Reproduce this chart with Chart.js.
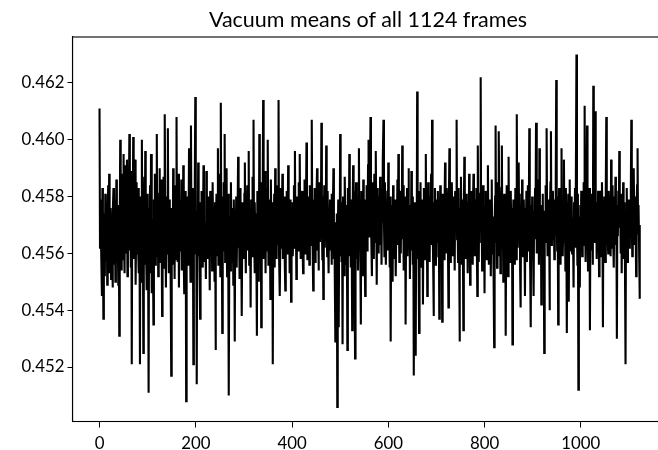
<!DOCTYPE html>
<html lang="en">
<head>
    <meta charset="UTF-8">
    <title>Vacuum means</title>
    <script src="https://cdn.jsdelivr.net/npm/chart.js"></script>
    <style>
        html, body { margin: 0; padding: 0; background: #fff; }
        body { width: 658px; height: 450px; overflow: hidden; position: relative; }
        #wrap { position: absolute; left: 0; top: 0; width: 700px; height: 450px; }
        #title {
            position: absolute; left: 368px; top: 7px; transform: translateX(-50%);
            font-family: Lato, "Open Sans", sans-serif; font-size: 21.5px; color: #000;
            white-space: nowrap; line-height: 1.2;
        }
    </style>
</head>
<body>
<div id="wrap"><canvas id="vacuumChart" width="700" height="450"></canvas></div>
<div id="title">Vacuum means of all 1124 frames</div>

<script>
// tick positions
const xTicks = [0, 200, 400, 600, 800, 1000];
const yTicks = [0.452, 0.454, 0.456, 0.458, 0.460, 0.462];

// vacuum mean per frame (frame 0 .. 1123)
const vacuumMeans = [
    0.4611, 0.4562, 0.4579, 0.4571, 0.4555, 0.4545, 0.4583, 0.4566, 0.4537, 0.4569, 0.4574, 0.4552, 0.4581, 0.4563, 0.4558, 0.4577, 0.4549, 0.4573, 0.4584, 0.4560,
    0.4588, 0.4553, 0.4566, 0.4576, 0.4551, 0.4570, 0.4561, 0.4548, 0.4574, 0.4583, 0.4556, 0.4563, 0.4579, 0.4550, 0.4568, 0.4586, 0.4557, 0.4572, 0.4565, 0.4549,
    0.4577, 0.4531, 0.4569, 0.4600, 0.4562, 0.4575, 0.4554, 0.4588, 0.4566, 0.4558, 0.4595, 0.4564, 0.4553, 0.4578, 0.4591, 0.4560, 0.4571, 0.4593, 0.4552, 0.4583,
    0.4567, 0.4580, 0.4602, 0.4561, 0.4574, 0.4555, 0.4589, 0.4521, 0.4577, 0.4569, 0.4601, 0.4558, 0.4582, 0.4573, 0.4593, 0.4549, 0.4566, 0.4585, 0.4560, 0.4578,
    0.4564, 0.4583, 0.4553, 0.4571, 0.4521, 0.4580, 0.4568, 0.4550, 0.4600, 0.4563, 0.4576, 0.4525, 0.4574, 0.4587, 0.4556, 0.4596, 0.4565, 0.4559, 0.4547, 0.4581,
    0.4570, 0.4557, 0.4511, 0.4576, 0.4566, 0.4584, 0.4553, 0.4595, 0.4568, 0.4546, 0.4572, 0.4561, 0.4535, 0.4579, 0.4565, 0.4588, 0.4556, 0.4571, 0.4582, 0.4602,
    0.4559, 0.4575, 0.4552, 0.4567, 0.4581, 0.4590, 0.4557, 0.4564, 0.4586, 0.4570, 0.4538, 0.4578, 0.4562, 0.4587, 0.4555, 0.4569, 0.4609, 0.4566, 0.4548, 0.4580,
    0.4571, 0.4560, 0.4604, 0.4568, 0.4553, 0.4579, 0.4566, 0.4573, 0.4547, 0.4517, 0.4576, 0.4563, 0.4556, 0.4590, 0.4562, 0.4581, 0.4551, 0.4584, 0.4569, 0.4558,
    0.4608, 0.4565, 0.4574, 0.4557, 0.4588, 0.4548, 0.4570, 0.4579, 0.4561, 0.4567, 0.4586, 0.4554, 0.4572, 0.4564, 0.4591, 0.4559, 0.4546, 0.4577, 0.4568, 0.4582,
    0.4508, 0.4573, 0.4565, 0.4580, 0.4556, 0.4568, 0.4597, 0.4562, 0.4575, 0.4550, 0.4605, 0.4567, 0.4558, 0.4583, 0.4571, 0.4521, 0.4578, 0.4560, 0.4586, 0.4615,
    0.4566, 0.4575, 0.4514, 0.4572, 0.4559, 0.4592, 0.4563, 0.4570, 0.4553, 0.4537, 0.4578, 0.4568, 0.4582, 0.4561, 0.4574, 0.4555, 0.4591, 0.4565, 0.4571, 0.4557,
    0.4569, 0.4551, 0.4589, 0.4564, 0.4576, 0.4558, 0.4580, 0.4562, 0.4573, 0.4547, 0.4582, 0.4566, 0.4560, 0.4577, 0.4554, 0.4585, 0.4569, 0.4561, 0.4574, 0.4550,
    0.4578, 0.4526, 0.4567, 0.4581, 0.4559, 0.4572, 0.4597, 0.4556, 0.4579, 0.4565, 0.4588, 0.4552, 0.4613, 0.4570, 0.4575, 0.4532, 0.4580, 0.4561, 0.4585, 0.4566,
    0.4602, 0.4557, 0.4574, 0.4563, 0.4590, 0.4552, 0.4570, 0.4581, 0.4560, 0.4510, 0.4573, 0.4568, 0.4554, 0.4585, 0.4565, 0.4576, 0.4557, 0.4571, 0.4549, 0.4579,
    0.4567, 0.4529, 0.4572, 0.4560, 0.4580, 0.4555, 0.4569, 0.4576, 0.4594, 0.4562, 0.4571, 0.4551, 0.4583, 0.4564, 0.4574, 0.4557, 0.4538, 0.4578, 0.4569, 0.4572,
    0.4558, 0.4581, 0.4592, 0.4565, 0.4553, 0.4575, 0.4568, 0.4584, 0.4561, 0.4571, 0.4596, 0.4556, 0.4576, 0.4566, 0.4541, 0.4579, 0.4570, 0.4559, 0.4587, 0.4563,
    0.4607, 0.4568, 0.4553, 0.4578, 0.4562, 0.4574, 0.4557, 0.4531, 0.4582, 0.4565, 0.4571, 0.4550, 0.4602, 0.4567, 0.4559, 0.4585, 0.4534, 0.4576, 0.4570, 0.4580,
    0.4614, 0.4558, 0.4577, 0.4564, 0.4589, 0.4553, 0.4572, 0.4583, 0.4561, 0.4569, 0.4600, 0.4556, 0.4579, 0.4566, 0.4574, 0.4544, 0.4586, 0.4572, 0.4559, 0.4578,
    0.4521, 0.4573, 0.4565, 0.4581, 0.4555, 0.4590, 0.4568, 0.4576, 0.4558, 0.4584, 0.4563, 0.4571, 0.4614, 0.4560, 0.4578, 0.4545, 0.4570, 0.4583, 0.4562, 0.4575,
    0.4588, 0.4558, 0.4571, 0.4564, 0.4580, 0.4556, 0.4547, 0.4577, 0.4567, 0.4582, 0.4560, 0.4573, 0.4591, 0.4562, 0.4575, 0.4553, 0.4569, 0.4579, 0.4543, 0.4574,
    0.4565, 0.4578, 0.4559, 0.4570, 0.4584, 0.4562, 0.4596, 0.4568, 0.4575, 0.4551, 0.4580, 0.4566, 0.4573, 0.4561, 0.4585, 0.4563, 0.4595, 0.4571, 0.4558, 0.4576,
    0.4567, 0.4582, 0.4562, 0.4553, 0.4577, 0.4569, 0.4586, 0.4560, 0.4574, 0.4564, 0.4599, 0.4571, 0.4558, 0.4580, 0.4566, 0.4575, 0.4556, 0.4584, 0.4570, 0.4578,
    0.4563, 0.4607, 0.4572, 0.4560, 0.4547, 0.4579, 0.4568, 0.4583, 0.4557, 0.4573, 0.4565, 0.4581, 0.4590, 0.4561, 0.4576, 0.4554, 0.4569, 0.4585, 0.4564, 0.4575,
    0.4569, 0.4606, 0.4574, 0.4558, 0.4580, 0.4544, 0.4570, 0.4584, 0.4562, 0.4577, 0.4567, 0.4598, 0.4571, 0.4559, 0.4582, 0.4564, 0.4553, 0.4576, 0.4568, 0.4579,
    0.4561, 0.4573, 0.4556, 0.4581, 0.4566, 0.4577, 0.4590, 0.4558, 0.4571, 0.4549, 0.4529, 0.4567, 0.4553, 0.4574, 0.4506, 0.4564, 0.4579, 0.4534, 0.4569, 0.4559,
    0.4602, 0.4565, 0.4578, 0.4557, 0.4572, 0.4528, 0.4580, 0.4562, 0.4575, 0.4552, 0.4587, 0.4568, 0.4556, 0.4577, 0.4563, 0.4526, 0.4583, 0.4571, 0.4559, 0.4595,
    0.4567, 0.4579, 0.4555, 0.4574, 0.4564, 0.4533, 0.4576, 0.4591, 0.4561, 0.4582, 0.4549, 0.4523, 0.4571, 0.4585, 0.4558, 0.4568, 0.4580, 0.4554, 0.4573, 0.4597,
    0.4563, 0.4577, 0.4557, 0.4535, 0.4582, 0.4568, 0.4571, 0.4552, 0.4586, 0.4565, 0.4575, 0.4559, 0.4545, 0.4579, 0.4570, 0.4584, 0.4561, 0.4573, 0.4591, 0.4600,
    0.4566, 0.4581, 0.4569, 0.4608, 0.4576, 0.4562, 0.4552, 0.4585, 0.4567, 0.4578, 0.4558, 0.4588, 0.4570, 0.4564, 0.4596, 0.4574, 0.4549, 0.4583, 0.4567, 0.4577,
    0.4560, 0.4580, 0.4568, 0.4587, 0.4563, 0.4575, 0.4556, 0.4583, 0.4571, 0.4592, 0.4607, 0.4572, 0.4559, 0.4585, 0.4565, 0.4556, 0.4578, 0.4569, 0.4582, 0.4561,
    0.4592, 0.4567, 0.4574, 0.4555, 0.4580, 0.4529, 0.4570, 0.4561, 0.4577, 0.4550, 0.4584, 0.4564, 0.4572, 0.4558, 0.4579, 0.4566, 0.4552, 0.4575, 0.4570, 0.4586,
    0.4563, 0.4595, 0.4573, 0.4557, 0.4582, 0.4568, 0.4560, 0.4578, 0.4571, 0.4598, 0.4565, 0.4584, 0.4554, 0.4574, 0.4562, 0.4580, 0.4535, 0.4571, 0.4567, 0.4583,
    0.4559, 0.4575, 0.4590, 0.4564, 0.4577, 0.4551, 0.4570, 0.4561, 0.4589, 0.4567, 0.4580, 0.4556, 0.4572, 0.4517, 0.4569, 0.4578, 0.4563, 0.4524, 0.4574, 0.4558,
    0.4617, 0.4571, 0.4582, 0.4559, 0.4532, 0.4576, 0.4566, 0.4585, 0.4562, 0.4573, 0.4555, 0.4579, 0.4542, 0.4570, 0.4583, 0.4564, 0.4575, 0.4558, 0.4595, 0.4568,
    0.4577, 0.4545, 0.4571, 0.4585, 0.4561, 0.4574, 0.4557, 0.4580, 0.4568, 0.4588, 0.4563, 0.4607, 0.4573, 0.4560, 0.4538, 0.4578, 0.4569, 0.4583, 0.4556, 0.4572,
    0.4564, 0.4579, 0.4567, 0.4582, 0.4559, 0.4575, 0.4537, 0.4570, 0.4584, 0.4562, 0.4577, 0.4569, 0.4536, 0.4581, 0.4566, 0.4573, 0.4558, 0.4578, 0.4592, 0.4565,
    0.4574, 0.4560, 0.4583, 0.4569, 0.4563, 0.4541, 0.4579, 0.4597, 0.4568, 0.4557, 0.4576, 0.4564, 0.4585, 0.4571, 0.4559, 0.4580, 0.4567, 0.4574, 0.4554, 0.4582,
    0.4570, 0.4578, 0.4607, 0.4565, 0.4572, 0.4557, 0.4583, 0.4568, 0.4529, 0.4576, 0.4562, 0.4587, 0.4570, 0.4556, 0.4579, 0.4566, 0.4533, 0.4573, 0.4594, 0.4563,
    0.4577, 0.4558, 0.4581, 0.4567, 0.4573, 0.4553, 0.4578, 0.4564, 0.4588, 0.4571, 0.4549, 0.4575, 0.4561, 0.4582, 0.4569, 0.4556, 0.4571, 0.4588, 0.4565, 0.4579,
    0.4559, 0.4574, 0.4567, 0.4583, 0.4562, 0.4545, 0.4598, 0.4571, 0.4557, 0.4578, 0.4568, 0.4581, 0.4622, 0.4564, 0.4575, 0.4554, 0.4572, 0.4584, 0.4561, 0.4573,
    0.4546, 0.4577, 0.4566, 0.4582, 0.4558, 0.4572, 0.4563, 0.4591, 0.4569, 0.4556, 0.4579, 0.4565, 0.4575, 0.4552, 0.4571, 0.4586, 0.4560, 0.4573, 0.4568, 0.4549,
    0.4527, 0.4571, 0.4580, 0.4605, 0.4564, 0.4576, 0.4555, 0.4585, 0.4570, 0.4559, 0.4603, 0.4567, 0.4578, 0.4553, 0.4573, 0.4583, 0.4598, 0.4562, 0.4574, 0.4550,
    0.4571, 0.4581, 0.4559, 0.4575, 0.4531, 0.4568, 0.4584, 0.4563, 0.4572, 0.4552, 0.4594, 0.4566, 0.4578, 0.4557, 0.4570, 0.4582, 0.4561, 0.4576, 0.4528, 0.4569,
    0.4579, 0.4564, 0.4574, 0.4556, 0.4583, 0.4570, 0.4558, 0.4609, 0.4573, 0.4562, 0.4577, 0.4592, 0.4567, 0.4581, 0.4554, 0.4541, 0.4575, 0.4565, 0.4586, 0.4571,
    0.4559, 0.4572, 0.4579, 0.4563, 0.4545, 0.4576, 0.4567, 0.4582, 0.4557, 0.4570, 0.4584, 0.4561, 0.4573, 0.4604, 0.4568, 0.4553, 0.4534, 0.4577, 0.4564, 0.4580,
    0.4570, 0.4558, 0.4545, 0.4575, 0.4565, 0.4583, 0.4571, 0.4606, 0.4572, 0.4560, 0.4579, 0.4567, 0.4586, 0.4556, 0.4597, 0.4573, 0.4562, 0.4577, 0.4542, 0.4574,
    0.4568, 0.4581, 0.4557, 0.4572, 0.4525, 0.4575, 0.4564, 0.4584, 0.4569, 0.4604, 0.4573, 0.4559, 0.4579, 0.4566, 0.4576, 0.4540, 0.4571, 0.4585, 0.4603, 0.4563,
    0.4578, 0.4565, 0.4582, 0.4571, 0.4579, 0.4558, 0.4574, 0.4567, 0.4587, 0.4621, 0.4572, 0.4561, 0.4580, 0.4535, 0.4570, 0.4583, 0.4563, 0.4576, 0.4556, 0.4573,
    0.4597, 0.4567, 0.4579, 0.4559, 0.4575, 0.4593, 0.4564, 0.4577, 0.4554, 0.4583, 0.4570, 0.4532, 0.4575, 0.4566, 0.4581, 0.4543, 0.4572, 0.4586, 0.4561, 0.4574,
    0.4568, 0.4580, 0.4560, 0.4572, 0.4565, 0.4548, 0.4578, 0.4569, 0.4583, 0.4562, 0.4575, 0.4630, 0.4571, 0.4556, 0.4581, 0.4512, 0.4573, 0.4564, 0.4548, 0.4577,
    0.4567, 0.4582, 0.4571, 0.4559, 0.4576, 0.4563, 0.4585, 0.4570, 0.4612, 0.4574, 0.4557, 0.4579, 0.4565, 0.4605, 0.4572, 0.4554, 0.4577, 0.4568, 0.4583, 0.4533,
    0.4573, 0.4561, 0.4581, 0.4569, 0.4576, 0.4556, 0.4619, 0.4571, 0.4564, 0.4584, 0.4610, 0.4570, 0.4578, 0.4558, 0.4575, 0.4567, 0.4582, 0.4572, 0.4552, 0.4579,
    0.4582, 0.4564, 0.4574, 0.4559, 0.4585, 0.4571, 0.4534, 0.4577, 0.4566, 0.4580, 0.4572, 0.4557, 0.4583, 0.4608, 0.4570, 0.4576, 0.4565, 0.4560, 0.4582, 0.4572,
    0.4567, 0.4578, 0.4559, 0.4593, 0.4573, 0.4562, 0.4584, 0.4568, 0.4575, 0.4555, 0.4580, 0.4570, 0.4587, 0.4563, 0.4573, 0.4530, 0.4577, 0.4566, 0.4582, 0.4571,
    0.4596, 0.4569, 0.4576, 0.4560, 0.4581, 0.4553, 0.4573, 0.4565, 0.4585, 0.4558, 0.4572, 0.4578, 0.4550, 0.4521, 0.4574, 0.4564, 0.4583, 0.4557, 0.4571, 0.4568,
    0.4579, 0.4562, 0.4575, 0.4566, 0.4582, 0.4607, 0.4571, 0.4559, 0.4578, 0.4569, 0.4590, 0.4573, 0.4563, 0.4580, 0.4570, 0.4552, 0.4576, 0.4584, 0.4597, 0.4567,
    0.4577, 0.4564, 0.4570, 0.4544
];

const points = vacuumMeans.map((v, i) => ({ x: i, y: v }));

// draws the full frame around the plot area (matplotlib spines)
const frameBox = {
    id: 'frameBox',
    afterDraw(chart) {
        const { ctx, chartArea: a } = chart;
        ctx.save();
        ctx.strokeStyle = '#000';
        ctx.lineWidth = 1.1;
        ctx.strokeRect(a.left, a.top, a.right - a.left, a.bottom - a.top);
        ctx.restore();
    }
};

Chart.defaults.font.family = 'Lato, "Open Sans", sans-serif';
Chart.defaults.color = '#000';

new Chart(document.getElementById('vacuumChart'), {
    type: 'line',
    data: {
        datasets: [{
            data: points,
            borderColor: '#000',
            borderWidth: 2.1,
            pointRadius: 0,
            tension: 0,
            fill: false
        }]
    },
    options: {
        responsive: false,
        animation: false,
        devicePixelRatio: 1,
        layout: { padding: { left: 0, right: 33, top: 37, bottom: 0 } },
        plugins: { legend: { display: false }, tooltip: { enabled: false } },
        scales: {
            x: {
                type: 'linear',
                min: -56.15,
                max: 1179.15,
                afterBuildTicks(scale) { scale.ticks = xTicks.map(v => ({ value: v })); },
                afterFit(scale) { scale.height = 28.5; },
                grid: { drawOnChartArea: false, drawTicks: true, tickLength: 6, color: '#000', lineWidth: 1 },
                border: { display: true, color: '#000', width: 1.1 },
                ticks: { font: { size: 16.8 }, padding: 6, maxRotation: 0, autoSkip: false, callback: v => String(v) }
            },
            y: {
                min: 0.450085,
                max: 0.463615,
                afterBuildTicks(scale) { scale.ticks = yTicks.map(v => ({ value: v })); },
                afterFit(scale) { scale.width = 72.5; },
                grid: { drawOnChartArea: false, drawTicks: true, tickLength: 5, color: '#000', lineWidth: 1 },
                border: { display: true, color: '#000', width: 1.1 },
                ticks: { font: { size: 16.8 }, padding: 3, autoSkip: false, callback: v => v.toFixed(3) }
            }
        }
    },
    plugins: [frameBox]
});
</script>
</body>
</html>
